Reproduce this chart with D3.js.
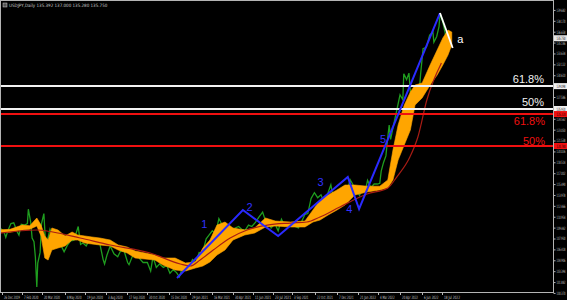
<!DOCTYPE html>
<html>
<head>
<meta charset="utf-8">
<script src="https://cdn.jsdelivr.net/npm/d3@7"></script>
<style>
  html, body { margin: 0; padding: 0; background: #000; }
  svg { display: block; }
</style>
</head>
<body>
<svg width="567" height="300"></svg>
<script>
// USDJPY daily closes
const closes = [
  ['2019-12-22', 109.4], ['2019-12-30', 108.9], ['2020-01-03', 108.1], ['2020-01-08', 109.1],
  ['2020-01-14', 110.0], ['2020-01-20', 110.1], ['2020-01-27', 108.9], ['2020-01-31', 108.4],
  ['2020-02-05', 109.9], ['2020-02-12', 109.8], ['2020-02-18', 110.0], ['2020-02-20', 112.0],
  ['2020-02-25', 110.2], ['2020-02-28', 108.0], ['2020-03-03', 107.5], ['2020-03-06', 105.3],
  ['2020-03-09', 101.2], ['2020-03-11', 104.5], ['2020-03-16', 106.0], ['2020-03-19', 110.0],
  ['2020-03-24', 111.4], ['2020-03-27', 107.9], ['2020-03-31', 107.5], ['2020-04-06', 109.2],
  ['2020-04-10', 108.5], ['2020-04-16', 107.9], ['2020-04-22', 107.7], ['2020-04-30', 106.9],
  ['2020-05-06', 106.1], ['2020-05-13', 107.0], ['2020-05-20', 107.6], ['2020-05-27', 107.7],
  ['2020-06-05', 109.6], ['2020-06-10', 107.1], ['2020-06-15', 107.3], ['2020-06-22', 106.9],
  ['2020-06-30', 107.9], ['2020-07-07', 107.6], ['2020-07-14', 107.2], ['2020-07-21', 107.2],
  ['2020-07-28', 105.0], ['2020-07-31', 104.4], ['2020-08-05', 105.6], ['2020-08-12', 106.9],
  ['2020-08-20', 105.8], ['2020-08-28', 105.4], ['2020-09-03', 106.2], ['2020-09-11', 106.1],
  ['2020-09-18', 104.6], ['2020-09-21', 104.3], ['2020-09-29', 105.6], ['2020-10-07', 106.0],
  ['2020-10-14', 105.1], ['2020-10-21', 104.6], ['2020-10-30', 104.6], ['2020-11-06', 103.4],
  ['2020-11-11', 105.4], ['2020-11-18', 103.9], ['2020-11-25', 104.4], ['2020-12-03', 103.9],
  ['2020-12-10', 104.2], ['2020-12-17', 103.1], ['2020-12-24', 103.6], ['2020-12-31', 103.2],
  ['2021-01-06', 102.6], ['2021-01-12', 103.8], ['2021-01-20', 103.5], ['2021-01-27', 104.1],
  ['2021-02-03', 105.0], ['2021-02-10', 104.6], ['2021-02-17', 106.0], ['2021-02-24', 105.9],
  ['2021-03-04', 107.9], ['2021-03-10', 108.4], ['2021-03-17', 109.0], ['2021-03-24', 108.6],
  ['2021-03-31', 110.7], ['2021-04-07', 109.8], ['2021-04-14', 108.9], ['2021-04-22', 107.9],
  ['2021-04-28', 108.6], ['2021-05-05', 109.4], ['2021-05-12', 109.6], ['2021-05-19', 109.2],
  ['2021-05-26', 109.1], ['2021-06-02', 109.8], ['2021-06-09', 109.6], ['2021-06-17', 110.2],
  ['2021-06-24', 110.9], ['2021-07-02', 111.6], ['2021-07-09', 110.2], ['2021-07-16', 110.1],
  ['2021-07-20', 109.4], ['2021-07-28', 110.0], ['2021-08-04', 109.0], ['2021-08-11', 110.6],
  ['2021-08-18', 109.7], ['2021-08-25', 110.0], ['2021-09-01', 110.0], ['2021-09-09', 109.6],
  ['2021-09-16', 109.4], ['2021-09-23', 110.3], ['2021-09-30', 111.3], ['2021-10-06', 111.4],
  ['2021-10-13', 113.5], ['2021-10-20', 114.3], ['2021-10-27', 113.6], ['2021-11-03', 114.0],
  ['2021-11-10', 112.9], ['2021-11-17', 114.1], ['2021-11-24', 115.4], ['2021-11-30', 113.2],
  ['2021-12-07', 113.4], ['2021-12-14', 113.7], ['2021-12-21', 114.3], ['2021-12-31', 115.1],
  ['2022-01-04', 116.1], ['2022-01-11', 115.3], ['2022-01-18', 114.6], ['2022-01-24', 113.9],
  ['2022-01-31', 115.1], ['2022-02-07', 115.1], ['2022-02-10', 116.0], ['2022-02-17', 115.0],
  ['2022-02-24', 115.5], ['2022-03-03', 115.5], ['2022-03-08', 115.6], ['2022-03-11', 117.3],
  ['2022-03-16', 118.5], ['2022-03-21', 119.4], ['2022-03-25', 122.0], ['2022-03-28', 123.7],
  ['2022-03-31', 121.7], ['2022-04-06', 123.6], ['2022-04-12', 125.4], ['2022-04-20', 127.9],
  ['2022-04-26', 127.2], ['2022-04-28', 130.8], ['2022-05-04', 130.0], ['2022-05-09', 130.9],
  ['2022-05-12', 128.3], ['2022-05-18', 128.2], ['2022-05-24', 126.9], ['2022-05-30', 127.6],
  ['2022-06-03', 130.9], ['2022-06-08', 134.3], ['2022-06-15', 134.5], ['2022-06-17', 135.0],
  ['2022-06-22', 136.2], ['2022-06-29', 136.6], ['2022-07-01', 135.2], ['2022-07-07', 136.0],
  ['2022-07-12', 137.4], ['2022-07-14', 139.2], ['2022-07-20', 138.0], ['2022-07-25', 136.5],
  ['2022-07-28', 134.8], ['2022-08-02', 135.4], ['2022-08-05', 135.75]
]

// orange band: date, upper edge, lower edge
const bandDates = [
  '2019-12-22', '2020-01-12', '2020-02-07', '2020-02-23', '2020-03-09', '2020-03-18', '2020-03-26',
  '2020-04-02', '2020-04-10', '2020-04-23', '2020-05-08', '2020-05-23', '2020-06-04', '2020-06-19',
  '2020-07-04', '2020-07-21', '2020-08-12', '2020-08-29', '2020-09-17', '2020-10-04', '2020-10-25',
  '2020-11-15', '2020-12-02', '2020-12-28', '2021-01-19', '2021-02-09', '2021-02-25', '2021-03-12',
  '2021-03-27', '2021-04-13', '2021-04-30', '2021-05-25', '2021-06-15', '2021-07-08', '2021-07-29',
  '2021-08-30', '2021-09-30', '2021-10-17', '2021-11-01', '2021-11-18', '2021-12-07', '2021-12-24',
  '2022-01-14', '2022-02-09', '2022-03-08', '2022-03-25', '2022-04-05', '2022-04-16', '2022-04-29',
  '2022-05-12', '2022-05-22', '2022-06-06', '2022-06-23', '2022-07-08', '2022-07-20', '2022-07-31',
  '2022-08-08'
]
const bandUpper = [
  109.15, 109.2, 109.8, 109.7, 110.78, 109.8, 108.28,
  107.72, 109.39, 109.11, 108.28, 108.83, 108.42, 108.28,
  108.14, 108.0, 107.72, 107.03, 106.75, 106.19, 105.92,
  105.64, 105.22, 105.22, 104.53, 104.67, 106.61, 107.72,
  109.8, 110.22, 109.39, 109.11, 109.39, 110.78, 110.36,
  110.22, 110.36, 111.89, 113.28, 113.97, 114.67, 115.36,
  115.36, 115.2, 115.2, 116.06, 120.22, 123.7, 126.47,
  128.28, 129.25, 129.53, 132.03, 134.11, 135.78, 136.89,
  136.61
]
const bandLower = [
  108.75, 108.8, 109.1, 109.2, 109.67, 108.28, 105.22,
  104.94, 106.33, 106.61, 106.89, 107.72, 107.72, 107.3,
  107.17, 107.03, 106.89, 106.33, 105.92, 105.22, 105.08,
  104.94, 104.25, 103.56, 103.42, 103.83, 104.11, 104.67,
  105.64, 106.33, 107.72, 108.42, 108.69, 109.53, 109.67,
  109.53, 109.53, 110.22, 110.5, 111.19, 111.89, 112.58,
  113.97, 114.39, 114.67, 114.95, 116.06, 118.83, 120.92,
  123.0, 126.47, 127.45, 129.25, 130.64, 132.03, 133.42,
  134.81
]

// slow moving average (dark red)
const maDates = [
  '2019-12-22', '2020-03-09', '2020-04-12', '2020-06-09', '2020-08-12', '2020-11-05', '2021-01-08',
  '2021-01-29', '2021-02-19', '2021-03-19', '2021-04-24', '2021-05-30', '2021-07-12', '2021-08-30',
  '2021-10-04', '2021-11-01', '2021-12-13', '2022-02-09', '2022-03-25', '2022-04-13', '2022-05-11',
  '2022-05-28', '2022-06-16', '2022-07-17'
]
const maValues = [
  108.69, 109.11, 108.83, 108.0, 107.03, 105.92, 104.39,
  104.11, 104.94, 106.33, 108.0, 109.11, 109.8, 110.08,
  110.22, 110.92, 112.31, 114.11, 114.95, 116.47, 119.25,
  122.03, 127.17, 132.31
]

// Elliott wave zigzag and the "a" leg
const waveDates = ['2021-01-01', '2021-05-21', '2021-08-04', '2021-12-30', '2022-01-23', '2022-07-14']
const waveValues = [102.45, 111.89, 108.28, 116.47, 112.03, 139.25]
const legDates = ['2022-07-14', '2022-08-10']
const legValues = [139.25, 134.39]

const waveNames = ['1', '2', '3', '4', '5']
const waveLabelDates = ['2021-02-28', '2021-06-04', '2021-11-02', '2022-01-02', '2022-03-15']
const waveLabelValues = [109.39, 111.75, 115.22, 111.47, 121.2]

// Fibonacci levels
const fibNames = ['61.8%', '50%']
const whiteFib = [129.098, 125.92]
const redFib = [125.22, 120.78]
const lastPrice = 135.75

const priceTicks = [
  100.37, 101.882, 103.394, 104.906, 106.418, 107.93, 109.442, 110.954, 112.466,
  113.978, 115.49, 117.002, 118.514, 120.026, 121.538, 123.05, 124.562, 126.074,
  127.586, 129.098, 130.61, 132.122, 133.634, 135.146, 136.658, 138.17, 139.682
]
const dateTicks = [
  '26 Dec 2019', '7 Feb 2020', '20 Mar 2020', '8 May 2020', '19 Jun 2020', '3 Aug 2020',
  '17 Sep 2020', '30 Oct 2020', '15 Dec 2020', '29 Jan 2021', '16 Mar 2021', '30 Apr 2021',
  '11 Jun 2021', '23 Jul 2021', '3 Sep 2021', '22 Oct 2021', '7 Dec 2021', '21 Jan 2022',
  '4 Mar 2022', '20 Apr 2022', '6 Jun 2022', '18 Jul 2022'
]

const svg = d3.select('svg')
const plotW = 553,
  plotH = 292
const parse = d3.timeParse('%Y-%m-%d')
const parseTick = d3.timeParse('%d %b %Y')
const tiny = '4.5px "DejaVu Sans Condensed", "DejaVu Sans", sans-serif'

const x = d3.scaleTime().domain([parse('2019-12-26'), parse('2022-07-14')]).range([2, 440])
const y = d3.scaleLinear().domain([100.5, 141.06]).range([plotH, 0])

svg.append('rect').attr('width', 567).attr('height', 300).attr('fill', '#000')

svg.append('clipPath').attr('id', 'plot')
  .append('rect').attr('width', plotW).attr('height', plotH)

const g = svg.append('g').attr('clip-path', 'url(#plot)')

// price line
g.append('path')
  .datum(closes)
  .attr('d', d3.line().x((d) => x(parse(d[0]))).y((d) => y(d[1])))
  .attr('fill', 'none')
  .attr('stroke', '#1f9e1f')
  .attr('stroke-width', 1.3)

// orange band
g.append('path')
  .datum(bandDates)
  .attr('d', d3.area()
    .x((d) => x(parse(d)))
    .y0((d, i) => y(bandLower[i]))
    .y1((d, i) => y(bandUpper[i])))
  .attr('fill', '#ffa500')
  .attr('stroke', '#ffa500')
  .attr('stroke-width', 0.6)

// moving average
g.append('path')
  .datum(maDates)
  .attr('d', d3.line().curve(d3.curveMonotoneX).x((d) => x(parse(d))).y((d, i) => y(maValues[i])))
  .attr('fill', 'none')
  .attr('stroke', '#a81c14')
  .attr('stroke-width', 1.2)

// fib lines
g.selectAll('.fib-white')
  .data(whiteFib)
  .enter()
  .append('line')
  .attr('x1', 0).attr('x2', plotW)
  .attr('y1', (d) => y(d)).attr('y2', (d) => y(d))
  .attr('stroke', '#f2f2f2')
  .attr('stroke-width', 2)

g.selectAll('.fib-red')
  .data(redFib)
  .enter()
  .append('line')
  .attr('x1', 0).attr('x2', plotW)
  .attr('y1', (d) => y(d)).attr('y2', (d) => y(d))
  .attr('stroke', '#f01010')
  .attr('stroke-width', 2)

// wave zigzag
g.append('path')
  .datum(waveDates)
  .attr('d', d3.line().x((d) => x(parse(d))).y((d, i) => y(waveValues[i])))
  .attr('fill', 'none')
  .attr('stroke', '#2a2aff')
  .attr('stroke-width', 2)

g.append('path')
  .datum(legDates)
  .attr('d', d3.line().x((d) => x(parse(d))).y((d, i) => y(legValues[i])))
  .attr('fill', 'none')
  .attr('stroke', '#ffffff')
  .attr('stroke-width', 1.8)

// wave labels
g.selectAll('.wave')
  .data(waveNames)
  .enter()
  .append('text')
  .attr('x', (d, i) => x(parse(waveLabelDates[i])))
  .attr('y', (d, i) => y(waveLabelValues[i]))
  .attr('text-anchor', 'middle')
  .style('font', '11px "Liberation Sans", Arial, sans-serif')
  .style('fill', '#3030ff')
  .text((d) => d)

g.append('text')
  .attr('x', x(parse('2022-08-26')))
  .attr('y', y(135.08))
  .attr('text-anchor', 'middle')
  .style('font', '11px "Liberation Sans", Arial, sans-serif')
  .style('fill', '#ffffff')
  .text('a')

// fib labels
g.selectAll('.fib-white-label')
  .data(whiteFib)
  .enter()
  .append('text')
  .attr('x', 544)
  .attr('y', (d) => y(d) - 3)
  .attr('text-anchor', 'end')
  .style('font', '11px "Liberation Sans", Arial, sans-serif')
  .style('fill', '#f2f2f2')
  .text((d, i) => fibNames[i])

g.selectAll('.fib-red-label')
  .data(redFib)
  .enter()
  .append('text')
  .attr('x', 545)
  .attr('y', (d, i) => y(d) + (i === 0 ? 11 : -1))
  .attr('text-anchor', 'end')
  .style('font', '11px "Liberation Sans", Arial, sans-serif')
  .style('fill', '#f01010')
  .text((d, i) => fibNames[i])

// frame
svg.append('rect')
  .attr('x', 0.5).attr('y', 0.5)
  .attr('width', plotW).attr('height', plotH)
  .attr('fill', 'none')
  .attr('stroke', '#b4b4b4')

// price axis
const yAxis = svg.append('g')
  .attr('transform', `translate(${plotW + 0.5},0)`)
  .call(d3.axisRight(y).tickValues(priceTicks).tickSize(2).tickPadding(1).tickFormat(d3.format('.3f')))
yAxis.select('.domain').remove()
yAxis.selectAll('line').attr('stroke', '#b4b4b4')
yAxis.selectAll('text')
  .attr('textLength', 9)
  .attr('lengthAdjust', 'spacingAndGlyphs')
  .style('font', tiny)
  .style('fill', '#c8c8c8')

// price boxes on the axis
const boxes = [
  [whiteFib[0], '#f2f2f2'], [whiteFib[1], '#f2f2f2'],
  [redFib[0], '#f01010'], [redFib[1], '#f01010'], [lastPrice, '#e6e6e6']
]
const box = svg.selectAll('.pbox').data(boxes).enter().append('g')
box.append('rect')
  .attr('x', plotW + 1).attr('y', (d) => y(d[0]) - 3)
  .attr('width', 13).attr('height', 6)
  .attr('fill', (d) => d[1])
box.append('text')
  .attr('x', plotW + 3.5).attr('y', (d) => y(d[0]) + 1.6)
  .attr('textLength', 9)
  .attr('lengthAdjust', 'spacingAndGlyphs')
  .style('font', tiny)
  .style('fill', '#000')
  .text((d) => d[0].toFixed(3))

// date axis
const xt = svg.selectAll('.xt').data(dateTicks).enter().append('g')
  .attr('transform', (d) => `translate(${Math.round(x(parseTick(d))) + 0.5},${plotH})`)
xt.append('line').attr('y1', 0).attr('y2', 3).attr('stroke', '#b4b4b4')
xt.append('text')
  .attr('x', 1.5).attr('y', 6.5)
  .attr('textLength', (d) => d.length * 1.45)
  .attr('lengthAdjust', 'spacingAndGlyphs')
  .style('font', tiny)
  .style('fill', '#c8c8c8')
  .text((d) => d)

// title
svg.append('rect').attr('x', 3).attr('y', 3).attr('width', 4).attr('height', 4)
  .attr('fill', '#555').attr('stroke', '#ccc').attr('stroke-width', 0.5)
svg.append('text')
  .attr('x', 9).attr('y', 7)
  .style('font', tiny)
  .style('fill', '#c8c8c8')
  .text('USDJPY,Daily  135.392 137.000 135.280 135.750')
</script>
</body>
</html>
